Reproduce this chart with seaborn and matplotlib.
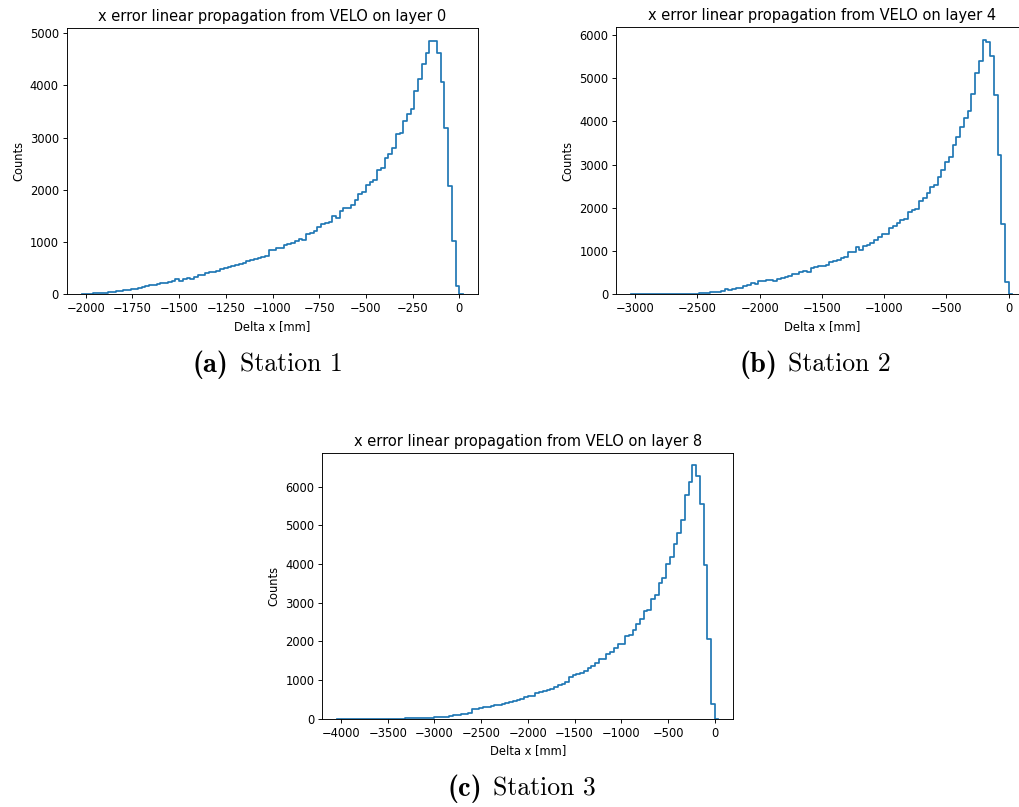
import numpy as np
import pandas as pd
import matplotlib
matplotlib.use("Agg")
import matplotlib.pyplot as plt
import seaborn as sns

# Counts per bin of the x residual (100 equal-width bins per layer)
layer0_counts = [
    5, 8, 10, 15, 25, 22, 30, 40, 48, 60,
    70, 80, 90, 105, 115, 130, 150, 165, 180, 195,
    205, 215, 230, 240, 285, 255, 290, 300, 295, 320,
    355, 365, 400, 415, 430, 450, 480, 495, 510, 540,
    555, 575, 600, 640, 660, 665, 700, 715, 720, 845,
    850, 875, 880, 945, 960, 985, 1020, 1050, 1030, 1160,
    1170, 1200, 1290, 1350, 1365, 1380, 1490, 1450, 1600, 1650,
    1650, 1700, 1800, 1920, 1960, 2100, 2140, 2190, 2370, 2420,
    2600, 2680, 2810, 3070, 3090, 3310, 3450, 3540, 3900, 4130,
    4410, 4630, 4860, 4850, 4630, 4070, 3180, 2070, 1010, 160,
]
layer4_counts = [
    1, 0, 0, 1, 0, 1, 1, 2, 1, 2,
    3, 3, 4, 5, 6, 8, 10, 15, 23, 25,
    35, 46, 55, 77, 124, 85, 108, 139, 150, 190,
    220, 265, 235, 290, 305, 320, 330, 295, 355, 375,
    390, 420, 455, 470, 500, 525, 510, 595, 615, 640,
    650, 680, 740, 760, 790, 835, 865, 975, 975, 1085,
    1030, 1105, 1130, 1185, 1240, 1315, 1390, 1395, 1530, 1570,
    1650, 1725, 1730, 1905, 1950, 1975, 2150, 2215, 2335, 2475,
    2525, 2715, 2870, 3055, 3175, 3450, 3640, 3870, 4085, 4240,
    4645, 5110, 5400, 5885, 5835, 5520, 4605, 3220, 1625, 280,
]
layer8_counts = [
    0, 0, 0, 0, 0, 1, 0, 1, 1, 1,
    1, 2, 2, 3, 3, 4, 5, 6, 8, 10,
    12, 15, 18, 22, 26, 32, 38, 45, 55, 70,
    88, 105, 112, 130, 155, 240, 250, 280, 290, 310,
    330, 345, 350, 370, 400, 420, 465, 490, 500, 565,
    580, 595, 672, 700, 715, 750, 776, 819, 862, 897,
    948, 1078, 1121, 1164, 1190, 1233, 1310, 1353, 1440, 1534,
    1552, 1681, 1724, 1828, 1922, 1940, 2138, 2172, 2302, 2440,
    2569, 2776, 2802, 3086, 3207, 3509, 3638, 4009, 4172, 4526,
    4793, 5147, 5776, 6121, 6552, 6267, 5543, 3983, 2052, 388,
]

# Histogram ranges in mm
layer0_range = (-2000, 0)
layer4_range = (-3000, 0)
layer8_range = (-4000, 0)

layer_ids = [0, 4, 8]
caption_tags = ["(a)", "(b)", "(c)"]
station_names = ["Station 1", "Station 2", "Station 3"]

layer0_xticks = list(range(-2000, 1, 250))
layer4_xticks = list(range(-3000, 1, 500))
layer8_xticks = list(range(-4000, 1, 500))
layer0_yticks = list(range(0, 5001, 1000))
layer4_yticks = list(range(0, 6001, 1000))
layer8_yticks = list(range(0, 6001, 1000))

# ---- style -------------------------------------------------------------
s = 0.83  # overall scale of the default matplotlib sizes
plt.rcParams.update({
    "font.family": ["DejaVu Sans"],
    "font.size": 10 * s,
    "axes.titlesize": 10.5,
    "axes.labelsize": 10 * s,
    "xtick.labelsize": 10 * s,
    "ytick.labelsize": 10 * s,
    "axes.linewidth": 0.8 * s,
    "xtick.major.size": 3.5 * s,
    "ytick.major.size": 3.5 * s,
    "xtick.major.width": 0.8 * s,
    "ytick.major.width": 0.8 * s,
    "xtick.major.pad": 3.5 * s,
    "ytick.major.pad": 3.5 * s,
    "axes.titlepad": 6 * s,
    "axes.labelpad": 4 * s,
})

W, H = 1019, 807
fig = plt.figure(figsize=(W / 100, H / 100), dpi=100)


def px_axes(left, top, width, height):
    return fig.add_axes([left / W, 1 - (top + height) / H, width / W, height / H])


def draw_hist(ax, counts, rng, layer, xticks, yticks):
    counts = np.asarray(counts, dtype=float)
    lo, hi = rng
    n = len(counts)
    width = (hi - lo) / n
    # one empty bin on each side so the outline drops back to the baseline
    edges = np.linspace(lo - width, hi + width, n + 3)
    centers = 0.5 * (edges[:-1] + edges[1:])
    weights = np.concatenate([[0.0], counts, [0.0]])
    df = pd.DataFrame({"delta_x": centers, "counts": weights})
    sns.histplot(data=df, x="delta_x", weights="counts", bins=edges.tolist(),
                 element="step", fill=False, color="#1f77b4",
                 linewidth=1.5 * s, ax=ax)
    span = hi - lo
    ax.set_xlim(lo - 0.05 * span, hi + 0.05 * span)
    ax.set_ylim(0, 1.05 * counts.max())
    ax.set_xticks(xticks)
    ax.set_yticks(yticks)
    ax.set_xlabel("Delta x [mm]")
    ax.set_ylabel("Counts")
    ax.set_title(f"x error linear propagation from VELO on layer {layer}")


ax_a = px_axes(67, 28, 411, 266)
ax_b = px_axes(616.4, 27.3, 411, 266.7)
ax_c = px_axes(322.4, 452.7, 411, 266)

draw_hist(ax_a, layer0_counts, layer0_range, layer_ids[0], layer0_xticks, layer0_yticks)
draw_hist(ax_b, layer4_counts, layer4_range, layer_ids[1], layer4_xticks, layer4_yticks)
draw_hist(ax_c, layer8_counts, layer8_range, layer_ids[2], layer8_xticks, layer8_yticks)

# sub-figure captions: bold tag followed by the station name (Computer Modern)
# (tag right x, name left x, baseline y) in pixels
caption_pos = [(228.5, 239.5, 372), (777.5, 788.5, 372), (482.5, 493, 796)]
for tag, name, (tx, nx, by) in zip(caption_tags, station_names, caption_pos):
    fig.text(tx / W, 1 - by / H, tag, ha="right", va="baseline",
             family="cmb10", fontsize=20.5)
    fig.text(nx / W, 1 - by / H, name, ha="left", va="baseline",
             family="cmr10", fontsize=18.5)

fig.savefig("out.png", dpi=100)
